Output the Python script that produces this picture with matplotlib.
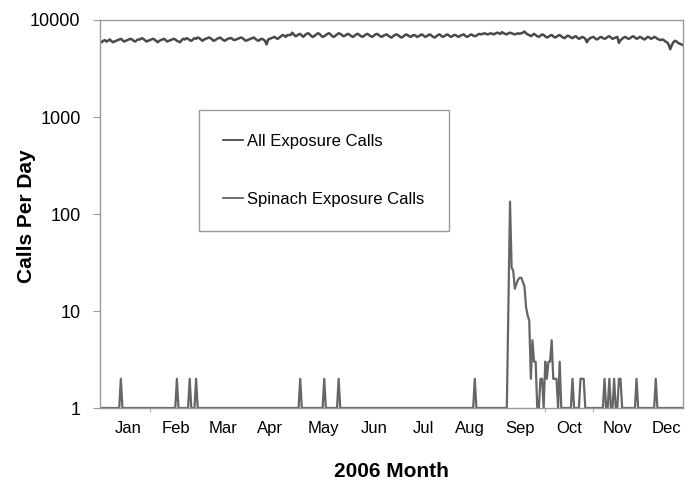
import matplotlib.pyplot as plt
import numpy as np
from matplotlib.ticker import NullLocator

plt.rcParams['font.family'] = ['Liberation Sans', 'DejaVu Sans']

# daily totals, one week per row (Jan 1 .. Dec 31)
all_calls = [
    6000, 5900, 6100, 6200, 6000, 6100, 6300,
    6100, 5900, 6000, 6100, 6200, 6300, 6400,
    6200, 6000, 6100, 6200, 6300, 6400, 6300,
    6100, 6000, 6200, 6300, 6300, 6500, 6400,
    6200, 6000, 6100, 6200, 6300, 6400, 6300,
    6100, 5900, 6100, 6200, 6300, 6400, 6200,
    6000, 6100, 6200, 6300, 6400, 6300, 6100,
    6000, 5900, 6200, 6400, 6300, 6500, 6400,
    6200, 6100, 6300, 6500, 6400, 6600, 6500,
    6300, 6100, 6300, 6400, 6500, 6600, 6500,
    6300, 6100, 6200, 6400, 6500, 6600, 6400,
    6200, 6100, 6300, 6400, 6500, 6500, 6300,
    6200, 6300, 6400, 6500, 6600, 6500, 6300,
    6100, 6200, 6300, 6400, 6500, 6600, 6400,
    6200, 6100, 6300, 6400, 6300, 6100, 5600,
    6300, 6400, 6500, 6600, 6700, 6500, 6400,
    6600, 6800, 7000, 6900, 6700, 7000, 7000,
    7000, 7400, 7100, 6800, 6900, 7100, 7200,
    6900, 6700, 7000, 7200, 7300, 7100, 6800,
    6700, 6900, 7100, 7300, 7200, 6900, 6700,
    6800, 7000, 7200, 7300, 7100, 6800, 6700,
    6900, 7100, 7300, 7200, 7000, 6800, 6900,
    7100, 7200, 7000, 6800, 6700, 6900, 7100,
    7200, 7000, 6800, 6700, 6900, 7100, 7200,
    7000, 6800, 6700, 6900, 7100, 7200, 7000,
    6800, 6700, 6900, 7000, 7100, 6900, 6700,
    6600, 6800, 7000, 7100, 7000, 6800, 6600,
    6700, 6900, 7100, 7000, 6800, 6700, 6900,
    7000, 6900, 6700, 6800, 7000, 7100, 6900,
    6700, 6800, 7000, 7100, 6900, 6700, 6600,
    6800, 7000, 7100, 6900, 6700, 6800, 7000,
    7100, 6900, 6700, 6800, 7000, 7000, 6800,
    6700, 6900, 7000, 7100, 6900, 6700, 6800,
    7000, 7100, 6900, 6800, 6900, 7100, 7200,
    7100, 7200, 7300, 7200, 7100, 7200, 7300,
    7200, 7100, 7300, 7400, 7300, 7200, 7500,
    7300, 7200, 7100, 7300, 7400, 7300, 7200,
    7100, 7200, 7300, 7200, 7300, 7400, 7600,
    7300, 7100, 7000, 6800, 7000, 7200, 7000,
    6800, 6700, 6900, 7100, 7000, 6800, 6600,
    6700, 6900, 7000, 6800, 6600, 6700, 6900,
    7000, 6800, 6600, 6500, 6700, 6900, 6800,
    6600, 6500, 6700, 6800, 6600, 6400, 6500,
    6700, 6600, 6400, 5900, 6300, 6500, 6600,
    6700, 6500, 6300, 6400, 6600, 6700, 6500,
    6400, 6500, 6700, 6800, 6600, 6400, 6500,
    6600, 6700, 5800, 6200, 6400, 6600, 6700,
    6500, 6400, 6500, 6700, 6800, 6600, 6400,
    6500, 6700, 6600, 6400, 6300, 6500, 6700,
    6600, 6400, 6500, 6700, 6600, 6400, 6300,
    6200, 6300, 6200, 6000, 5900, 5600, 5000,
    5500, 5900, 6100, 6000, 5800, 5700, 5600,
    5500,
]

# spinach calls: days (1-based) where the count is above the floor of 1
spinach_days = [14, 49, 57, 61, 126, 141, 150, 235,
                256, 257, 258, 259, 260, 261, 262, 263, 264, 265, 266, 267,
                268, 269, 270, 271, 272, 273, 276, 277, 279, 280, 281, 282,
                283, 284, 285, 286, 288, 296, 301, 302, 303, 316, 319, 322,
                325, 326, 336, 348]
spinach_counts = [2, 2, 2, 2, 2, 2, 2, 2,
                  12, 134, 28, 26, 17, 19, 21, 22, 22, 20, 18, 11,
                  9, 8, 2, 5, 3, 3, 2, 2, 3, 2, 3, 3,
                  5, 2, 2, 2, 3, 2, 2, 2, 2, 2, 2, 2,
                  2, 2, 2, 2]
spinach_floor = 1

months = ['Jan', 'Feb', 'Mar', 'Apr', 'May', 'Jun',
          'Jul', 'Aug', 'Sep', 'Oct', 'Nov', 'Dec']
month_pos = [18.7, 48.5, 77.6, 107.1, 140.4, 172.2,
             202.9, 232.0, 263.2, 293.8, 323.8, 354.4]

days = np.arange(1, len(all_calls) + 1)
spinach = np.full(len(all_calls), spinach_floor, dtype=float)
spinach[np.array(spinach_days) - 1] = spinach_counts

W, H = 685, 486
fig = plt.figure(figsize=(W / 100, H / 100), dpi=100)
ax = fig.add_axes([100 / W, 78 / H, 583 / W, 388 / H])

ax.plot(days, all_calls, color='#4a4a4a', lw=1.8, label='All Exposure Calls')
ax.plot(days, spinach, color='#666666', lw=1.6, label='Spinach Exposure Calls')

ax.set_yscale('log')
ax.set_ylim(1, 10000)
ax.set_xlim(1, 365)
ax.set_yticks([1, 10, 100, 1000, 10000], ['1', '10', '100', '1000', '10000'])
ax.yaxis.set_minor_locator(NullLocator())
ax.set_xticks(month_pos, months)
ax.set_xticks([32, 279, 309], minor=True)

for s in ax.spines.values():
    s.set_color('#9a9a9a')
    s.set_linewidth(1.0)

ax.tick_params(axis='y', length=5, color='#9a9a9a', labelsize=13, pad=9)
ax.tick_params(axis='x', which='major', length=0, labelsize=12, pad=9)
ax.tick_params(axis='x', which='minor', length=3, color='#9a9a9a')

fig.text(26 / W, 1 - 216 / H, 'Calls Per Day', rotation=90, fontsize=15,
         fontweight='bold', ha='center', va='center')
fig.text(391 / W, 1 - 471 / H, '2006 Month', fontsize=15,
         fontweight='bold', ha='center', va='center')

leg = ax.legend(loc='upper left', bbox_to_anchor=(199 / W, 1 - 110 / H),
                bbox_transform=fig.transFigure, borderaxespad=0,
                fontsize=12, handlelength=1.2, handletextpad=0.25,
                borderpad=1.45, labelspacing=2.55, fancybox=False,
                edgecolor='#9a9a9a', framealpha=1)
leg.get_frame().set_linewidth(1.0)
for h in leg.get_lines():
    h.set_linewidth(1.3)

fig.savefig('out.png', dpi=100)
